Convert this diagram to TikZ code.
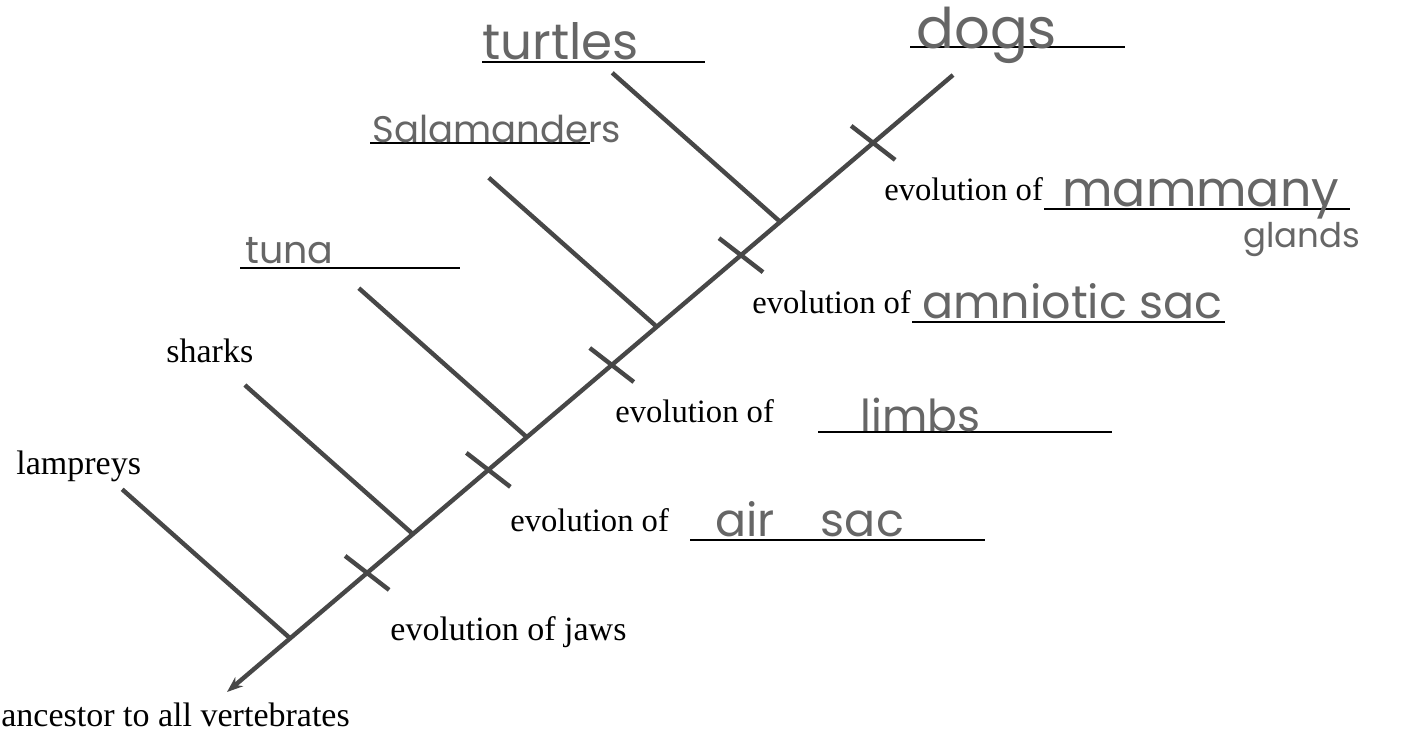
\documentclass[tikz,border=0pt]{standalone}
\usepackage{fontspec}
\setmainfont{Liberation Serif}
\newfontfamily\hand{Poppins}
\usetikzlibrary{arrows.meta,calc}
\begin{document}
\begin{tikzpicture}[x=0.5pt,y=-0.5pt,
  trunk/.style={draw=black!72,line width=2.2pt},
  branch/.style={draw=black!72,line width=2.2pt},
  tick/.style={draw=black!72,line width=2.2pt},
  printed/.style={font=\fontsize{17}{19}\selectfont,inner sep=0pt,anchor=base west,text=black},
  blankl/.style={font=\fontsize{16.3}{18}\selectfont,inner sep=0pt,anchor=base west,text=black},
  handw/.style={font=\hand\fontsize{19}{20}\selectfont,inner sep=0pt,anchor=base west,text=black!60},
  uline/.style={draw=black,line width=0.55pt}]
\useasboundingbox[fill=white] (0,0) rectangle (1401,734);
% main trunk
\coordinate (root) at (227,692);
\coordinate (top) at (953,75);
\draw[trunk,-{Stealth[length=8pt,width=6pt]}] (top) -- (root);
% junctions on trunk
\coordinate (jL) at ($(root)!0.087!(top)$);
\coordinate (jS) at ($(root)!0.256!(top)$);
\coordinate (jT) at ($(root)!0.413!(top)$);
\coordinate (jA) at ($(root)!0.592!(top)$);
\coordinate (jU) at ($(root)!0.762!(top)$);
% branch tips
\coordinate (tL) at ($(jL)+(-168,-149)$);
\coordinate (tS) at ($(jS)+(-168,-149)$);
\coordinate (tT) at ($(jT)+(-168,-149)$);
\coordinate (tA) at ($(jA)+(-168,-149)$);
\coordinate (tU) at ($(jU)+(-168,-149)$);
\draw[branch] (tL) -- (jL);
\draw[branch] (tS) -- (jS);
\draw[branch] (tT) -- (jT);
\draw[branch] (tA) -- (jA);
\draw[branch] (tU) -- (jU);
% ticks (character marks)
\foreach \t/\n in {0.193/kJ,0.36/kR,0.53/kB,0.708/kM,0.89/kG}{
  \coordinate (\n) at ($(root)!\t!(top)$);
  \draw[tick] ($(\n)+(-22,-17)$) -- ($(\n)+(22,17)$);
}
% printed labels
\node[printed] (lam) at (16,474) {lampreys};
\node[printed] (sha) at (166,362) {sharks};
\node[printed] (anc) at (1,726) {ancestor to all vertebrates};
\node[printed] (ejaw) at (390,640) {evolution of jaws};
\node[blankl] (eair) at (510,531) {evolution of};
\node[blankl] (elim) at (615,422) {evolution of};
\node[blankl] (eamn) at (752,313) {evolution of};
\node[blankl] (emam) at (884,200) {evolution of};
% underlines
\draw[uline] (690,540) -- (985,540);
\draw[uline] (818,432) -- (1112,432);
\draw[uline] (912,322) -- (1225,322);
\draw[uline] (1044,209) -- (1350,209);
\draw[uline] (240,268) -- (460,268);
\draw[uline] (370,143) -- (590,143);
\draw[uline] (482,62) -- (705,62);
\draw[uline] (910,47) -- (1125,47);
% handwritten labels
\node[handw,font=\hand\fontsize{23}{24}\selectfont] (hair) at (715,536) {air\hspace{1em}sac};
\node[handw,font=\hand\fontsize{22}{24}\selectfont] (hlim) at (860,431) {limbs};
\node[handw,font=\hand\fontsize{23}{25}\selectfont] (hamn) at (922,318) {amniotic sac};
\node[handw,font=\hand\fontsize{24.5}{26}\selectfont] (hmam) at (1062,206) {mammany};
\node[handw,font=\hand\fontsize{17}{18}\selectfont] (hgla) at (1243,247) {glands};
\node[handw] (htun) at (245,263) {tuna};
\node[handw,font=\hand\fontsize{18.5}{20}\selectfont] (hsal) at (372,142) {Salamanders};
\node[handw,font=\hand\fontsize{25}{26}\selectfont] (htur) at (482,59) {turtles};
\node[handw,font=\hand\fontsize{28}{30}\selectfont] (hdog) at (916,48) {dogs};
\end{tikzpicture}
\end{document}
